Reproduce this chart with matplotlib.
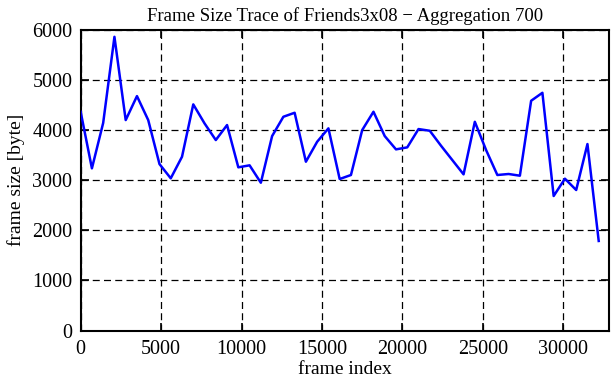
import matplotlib
matplotlib.use("Agg")
import matplotlib.pyplot as plt

step = 700
sizes = [4363, 3235, 4140, 5857, 4197, 4675, 4197, 3320, 3036, 3466,
         4510, 4131, 3799, 4098, 3255, 3295, 2948, 3878, 4263, 4343,
         3367, 3765, 4032, 3022, 3102, 3998, 4363, 3878, 3613, 3653,
         4018, 3984, 3685, 3400, 3115, 4163, 3600, 3102, 3122, 3088,
         4582, 4741, 2683, 3028, 2803, 3719, 1787]
frames = [i * step for i in range(len(sizes))]
xticks = [0, 5000, 10000, 15000, 20000, 25000, 30000]
yticks = [0, 1000, 2000, 3000, 4000, 5000, 6000]

plt.rcParams['font.family'] = ['Liberation Serif', 'DejaVu Serif']
fig = plt.figure(figsize=(6.11, 3.80), dpi=100)
ax = fig.add_axes([0.132, 0.130, 0.865, 0.792])
ax.plot(frames, sizes, color='#0000ff', lw=1.8, zorder=3)
ax.set_xlim(0, 32850)
ax.set_ylim(0, 6000)
ax.set_xticks(xticks)
ax.set_yticks(yticks)
ax.grid(True, color='black', linestyle=(0, (5.6, 3.4)), linewidth=0.9)
ax.tick_params(direction='in', length=6, width=1.2, top=True, right=True,
               labelsize=14.5)
ax.tick_params(axis='x', pad=7)
ax.tick_params(axis='y', pad=6)
for s in ax.spines.values():
    s.set_linewidth(1.5)
ax.set_xlabel('frame index', fontsize=14, labelpad=1)
ax.set_ylabel('frame size [byte]', fontsize=14, labelpad=5)
ax.set_title('Frame Size Trace of Friends3x08 \u2212 Aggregation 700', fontsize=13.5, pad=6)
fig.savefig('out.png', dpi=100)
